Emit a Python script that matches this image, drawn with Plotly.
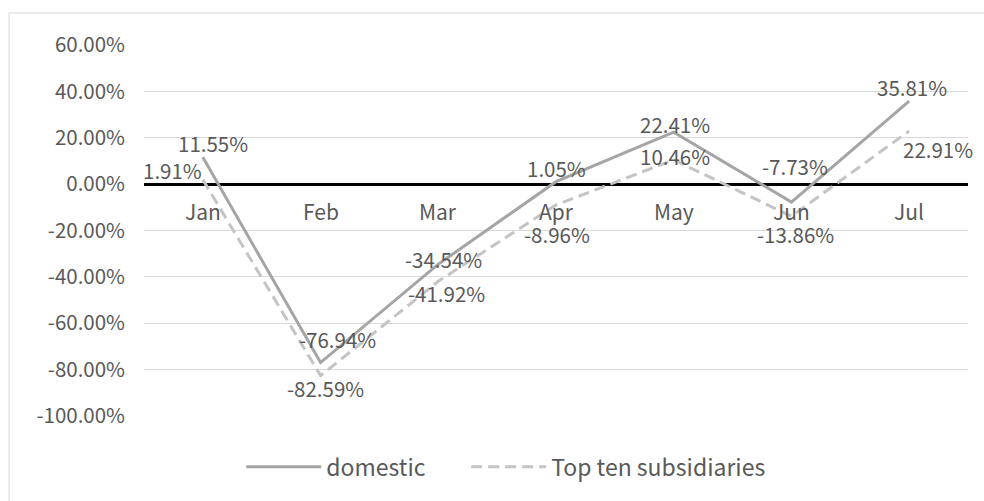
import plotly.graph_objects as go

months = ["Jan", "Feb", "Mar", "Apr", "May", "Jun", "Jul"]
domestic = [11.55, -76.94, -34.54, 1.05, 22.41, -7.73, 35.81]
top_ten = [1.91, -82.59, -41.92, -8.96, 10.46, -13.86, 22.91]
y_ticks = [60, 40, 20, 0, -20, -40, -60, -80, -100]

# label offsets (pixels) for data labels
dom_shift = [(10, 14), (17, 24), (5, 5), (0, 14), (1, 8), (4, 36), (3, 14)]
top_shift = [(-30, 10), (5, -12), (8, -12), (1, -29), (1, 4), (4, -18), (29, -18)]

FONT = "Noto Sans CJK SC"
TXT = "#595959"
LBL = 20.5

fig = go.Figure()
fig.add_trace(go.Scatter(x=months, y=domestic, mode="lines", name="domestic",
                         line=dict(color="#A5A5A5", width=3), legend="legend"))
fig.add_trace(go.Scatter(x=months, y=top_ten, mode="lines", name="Top ten subsidiaries",
                         line=dict(color="#C4C4C4", width=3, dash="11px,6px"),
                         legend="legend2"))

ann = []
for m, v, (dx, dy) in zip(months, domestic, dom_shift):
    ann.append(dict(x=m, y=v, xref="x", yref="y", text=f"{v:.2f}%", showarrow=False,
                    xshift=dx, yshift=dy, font=dict(family=FONT, size=LBL, color=TXT)))
for m, v, (dx, dy) in zip(months, top_ten, top_shift):
    ann.append(dict(x=m, y=v, xref="x", yref="y", text=f"{v:.2f}%", showarrow=False,
                    xshift=dx, yshift=dy, font=dict(family=FONT, size=LBL, color=TXT)))
for m in months:
    ann.append(dict(x=m, y=0, xref="x", yref="y", text=m, showarrow=False,
                    yshift=-27, font=dict(family=FONT, size=21, color=TXT)))

leg_common = dict(orientation="h", xanchor="left", y=-0.137, yanchor="middle",
                  itemwidth=75, font=dict(family=FONT, size=23, color=TXT),
                  bgcolor="rgba(0,0,0,0)")

fig.update_layout(
    width=984, height=501,
    margin=dict(l=144, r=16, t=45, b=85),
    paper_bgcolor="white", plot_bgcolor="white",
    font=dict(family=FONT, size=20, color=TXT),
    showlegend=True,
    legend=dict(x=0.118, **leg_common),
    legend2=dict(x=0.391, **leg_common),
    xaxis=dict(range=[-0.5, 6.5], showticklabels=False, showgrid=False, zeroline=False,
               showline=False, ticks=""),
    yaxis=dict(range=[-100, 60], tickvals=y_ticks,
               ticktext=[f"{v:.2f}%" for v in y_ticks],
               showgrid=True, gridcolor="#D9D9D9", gridwidth=1,
               zeroline=True, zerolinecolor="black", zerolinewidth=3,
               showline=False, ticks="", ticklen=0, ticklabelstandoff=18,
               tickfont=dict(family=FONT, size=20.5, color=TXT)),
    annotations=ann,
    shapes=[dict(type="rect", xref="paper", yref="paper",
                 x0=-0.1638, x1=1.1, y0=-0.3, y1=1.0863,
                 line=dict(color="#D9D9D9", width=1), fillcolor="rgba(0,0,0,0)",
                 layer="below")],
)
fig.write_html("out.html")
